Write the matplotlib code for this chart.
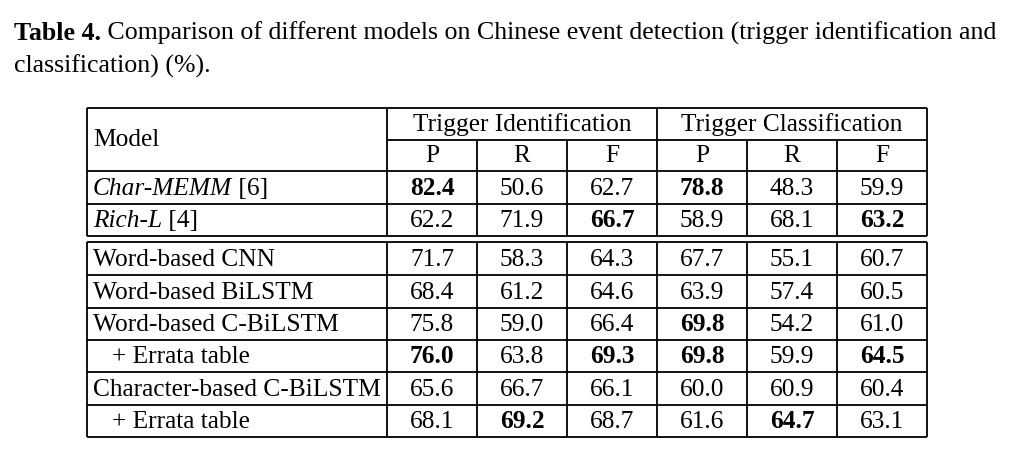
import matplotlib
matplotlib.use("Agg")
import matplotlib.pyplot as plt

# ---- data ----
models = ["Char-MEMM", "Rich-L", "Word-based CNN", "Word-based BiLSTM",
          "Word-based C-BiLSTM", "+ Errata table", "Character-based C-BiLSTM",
          "+ Errata table"]
model_refs = [" [6]", " [4]", "", "", "", "", "", ""]
model_italic = [True, True, False, False, False, False, False, False]
ti_p = ["82.4", "62.2", "71.7", "68.4", "75.8", "76.0", "65.6", "68.1"]
ti_r = ["50.6", "71.9", "58.3", "61.2", "59.0", "63.8", "66.7", "69.2"]
ti_f = ["62.7", "66.7", "64.3", "64.6", "66.4", "69.3", "66.1", "68.7"]
tc_p = ["78.8", "58.9", "67.7", "63.9", "69.8", "69.8", "60.0", "61.6"]
tc_r = ["48.3", "68.1", "55.1", "57.4", "54.2", "59.9", "60.9", "64.7"]
tc_f = ["59.9", "63.2", "60.7", "60.5", "61.0", "64.5", "60.4", "63.1"]
bold_cells = {(0, 0), (0, 3), (1, 2), (1, 5), (4, 3), (5, 0), (5, 2), (5, 3),
              (5, 5), (7, 1), (7, 4)}
group_titles = ["Trigger Identification", "Trigger Classification"]
sub_headers = ["P", "R", "F"]
caption_bold = "Table 4."
caption_line1 = " Comparison of different models on Chinese event detection (trigger identification and"
caption_line2 = "classification) (%)."

W, H = 1012, 450
fig = plt.figure(figsize=(W / 100, H / 100), dpi=100)
ax = fig.add_axes([0, 0, 1, 1])
ax.set_xlim(0, W)
ax.set_ylim(H, 0)
ax.axis("off")

FONT = "Liberation Serif"
FS = 18.3
CFS = 18.6
LW = 1.3
BASE_OFF = 9
renderer = fig.canvas.get_renderer()


def px_width(t):
    bb = t.get_window_extent(renderer=renderer)
    return bb.width


def hline(y, x0, x1):
    ax.plot([x0, x1], [y, y], color="black", lw=LW, solid_capstyle="butt")


def vline(x, y0, y1):
    ax.plot([x, x], [y0, y1], color="black", lw=LW, solid_capstyle="butt")


# caption
t = ax.text(14, 40, caption_bold, fontsize=CFS, family=FONT, weight="bold",
            va="baseline", ha="left")
w = px_width(t)
ax.text(14 + w, 40, caption_line1, fontsize=CFS, family=FONT,
        va="baseline", ha="left")
ax.text(14, 73, caption_line2, fontsize=CFS, family=FONT,
        va="baseline", ha="left")

# geometry
xL, xM, xR = 87, 387, 927
col_edges = [387, 477, 567, 657, 747, 837, 927]
y_top, y_mid, y_head = 108, 140, 171
row_edges_a = [171, 204, 236]
row_edges_b = [242, 275, 308, 340, 372, 405, 437]

# horizontal lines
hline(y_top, xL, xR)
hline(y_mid, xM, xR)
for y in row_edges_a:
    hline(y, xL, xR)
for y in row_edges_b:
    hline(y, xL, xR)

# vertical lines
for x in [xL, xM, 657, xR]:
    vline(x, y_top, row_edges_a[-1])
    vline(x, row_edges_b[0], row_edges_b[-1])
for x in [477, 567, 747, 837]:
    vline(x, y_mid, row_edges_a[-1])
    vline(x, row_edges_b[0], row_edges_b[-1])

# header
ax.text(93, 146, "Model", fontsize=FS, family=FONT, va="baseline", ha="left")
for g, title in enumerate(group_titles):
    cx = (col_edges[3 * g] + col_edges[3 * g + 3]) / 2
    ax.text(cx, y_mid - BASE_OFF, title, fontsize=FS, family=FONT,
            va="baseline", ha="center")
    for k, s in enumerate(sub_headers):
        c = 3 * g + k
        ax.text((col_edges[c] + col_edges[c + 1]) / 2, y_head - BASE_OFF,
                s, fontsize=FS, family=FONT, va="baseline", ha="center")

# body
cols = [ti_p, ti_r, ti_f, tc_p, tc_r, tc_f]
row_bounds = list(zip(row_edges_a[:-1], row_edges_a[1:])) + \
    list(zip(row_edges_b[:-1], row_edges_b[1:]))
for i, name in enumerate(models):
    y0, y1 = row_bounds[i]
    by = y1 - BASE_OFF
    x = 112 if name.startswith("+") else 93
    t = ax.text(x, by, name, fontsize=FS, family=FONT,
                style="italic" if model_italic[i] else "normal",
                va="baseline", ha="left")
    if model_refs[i]:
        w = px_width(t)
        ax.text(x + w, by, model_refs[i], fontsize=FS, family=FONT,
                va="baseline", ha="left")
    for c, col in enumerate(cols):
        ax.text((col_edges[c] + col_edges[c + 1]) / 2, by, col[i],
                fontsize=FS, family=FONT,
                weight="bold" if (i, c) in bold_cells else "normal",
                va="baseline", ha="center")

fig.savefig("out.png", dpi=100, facecolor="white")
